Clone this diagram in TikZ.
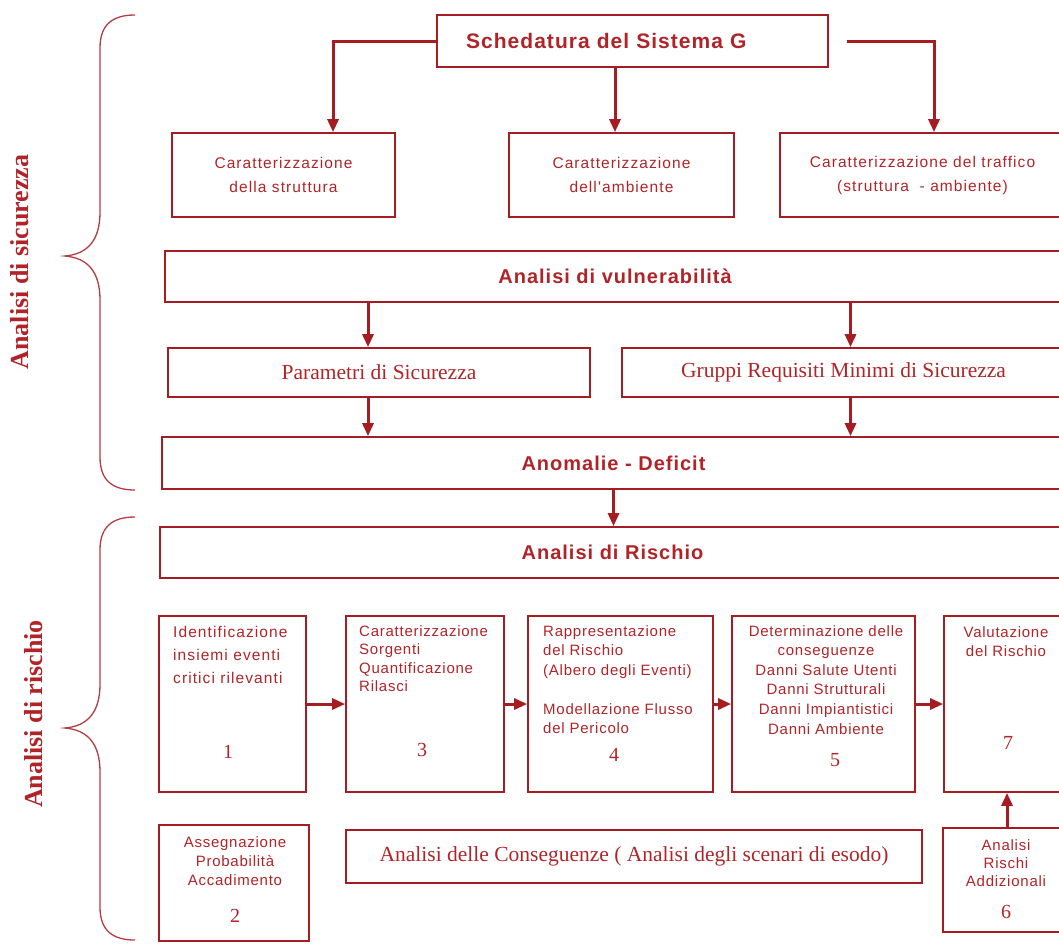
\documentclass[tikz,border=0pt]{standalone}
\usepackage{fontspec}
\setmainfont{Liberation Serif}
\newfontfamily\hdrfont[LetterSpace=5]{Liberation Sans}
\newfontfamily\widefont[LetterSpace=7]{Liberation Sans}
\newfontfamily\midfont[LetterSpace=5]{Liberation Sans}
\newfontfamily\tightfont[LetterSpace=5]{Liberation Sans}
\usetikzlibrary{arrows.meta,positioning,calc}
\definecolor{LineRed}{RGB}{165,28,34}
\definecolor{TextRed}{RGB}{176,36,40}

\begin{document}
\begin{tikzpicture}[x=1pt,y=-1pt,
        box/.style={draw=LineRed,line width=1.7pt,inner sep=0pt},
        hdr/.style={font=\hdrfont\bfseries\fontsize{20}{24}\selectfont,text=TextRed},
        ser/.style={font=\fontsize{21.5}{25}\selectfont,text=TextRed},
        wide/.style={font=\widefont\fontsize{15.5}{23}\selectfont,text=TextRed,
                     inner sep=0pt,align=left},
        tight/.style={font=\tightfont\fontsize{15}{19}\selectfont,text=TextRed,
                      inner sep=0pt,align=center},
        num/.style={font=\fontsize{20}{24}\selectfont,text=TextRed,inner sep=0pt},
        side/.style={font=\bfseries\fontsize{26}{30}\selectfont,text=TextRed,rotate=90},
        arr/.style={draw=LineRed,line width=3pt,-{Triangle[length=13pt,width=11pt]}},
        brace/.style={draw=LineRed!85,line width=1.3pt}
      ]
        \useasboundingbox (0,0) rectangle (1059,943);
        \clip (0,0) rectangle (1059,943);
        % analisi di sicurezza
        \node[box,hdr,font=\hdrfont\bfseries\fontsize{21}{24}\selectfont,
              text width=333pt,inner xsep=29pt,align=left,minimum height=52pt]
          (sched) at (632.5,41) {Schedatura del Sistema G};
        \node[box,wide,align=center,font=\widefont\fontsize{15.5}{24}\selectfont,
              minimum width=223pt,minimum height=84pt]
          (carstr) at (283.5,175) {Caratterizzazione\\della struttura};
        \node[box,wide,align=center,font=\widefont\fontsize{15.5}{24}\selectfont,
              minimum width=225pt,minimum height=84pt]
          (caramb) at (621.5,175) {Caratterizzazione\\dell'ambiente};
        \node[box,wide,align=center,font=\widefont\fontsize{15.5}{24}\selectfont,
              minimum width=285pt,minimum height=84pt]
          (cartraf) at (922.5,175) {Caratterizzazione del traffico\\(struttura~ - ambiente)};
        \node[box,hdr,minimum width=900pt,minimum height=51pt]
          (vuln) at (615,276.5) {Analisi di vulnerabilità};
        \node[box,ser,minimum width=422pt,minimum height=49pt]
          (param) at (379,372.5) {Parametri di Sicurezza};
        \node[box,ser,minimum width=443pt,minimum height=49pt]
          (gruppi) at (843.5,372.5) {Gruppi Requisiti Minimi di Sicurezza};
        \node[box,hdr,minimum width=903pt,minimum height=52pt]
          (anom) at (613.5,463) {Anomalie - Deficit};
        % analisi di rischio
        \node[box,hdr,minimum width=905pt,minimum height=51pt]
          (rischio) at (612.5,552.5) {Analisi di Rischio};
        \node[box,minimum width=147pt,minimum height=176pt] (b1) at (232.5,704) {};
        \node[box,minimum width=158pt,minimum height=176pt] (b3) at (425,704) {};
        \node[box,minimum width=185pt,minimum height=176pt] (b4) at (620.5,704) {};
        \node[box,minimum width=183pt,minimum height=176pt] (b5) at (823.5,704) {};
        \node[box,minimum width=121pt,minimum height=176pt] (b7) at (1004.5,704) {};
        \node[box,minimum width=150pt,minimum height=116pt] (b2) at (234,883) {};
        \node[box,ser,minimum width=576pt,minimum height=53pt]
          (cons) at (634,856.5) {Analisi delle Conseguenze ( Analisi degli scenari di esodo)};
        \node[box,minimum width=122pt,minimum height=104pt] (b6) at (1004,880) {};

        \node[wide,anchor=north west] (t1) at (173,626)
          {Identificazione\\insiemi eventi\\critici rilevanti};
        \node[wide,anchor=north west,font=\midfont\fontsize{15}{18.5}\selectfont]
          (t3) at (359,625) {Caratterizzazione\\Sorgenti\\Quantificazione\\Rilasci};
        \node[wide,anchor=north west,font=\tightfont\fontsize{15}{19.5}\selectfont]
          (t4) at (543,625)
          {Rappresentazione\\del Rischio\\(Albero degli Eventi)\\[19.5pt]Modellazione Flusso\\del Pericolo};
        \node[tight,anchor=north,font=\tightfont\fontsize{15}{19.6}\selectfont]
          (t5) at (826,625)
          {Determinazione delle\\conseguenze\\Danni Salute Utenti\\Danni Strutturali\\Danni Impiantistici\\Danni Ambiente};
        \node[tight,anchor=north] (t7) at (1006,626) {Valutazione\\del Rischio};
        \node[tight,anchor=north] (t2) at (235,836) {Assegnazione\\Probabilità\\Accadimento};
        \node[tight,anchor=north,font=\tightfont\fontsize{15}{18}\selectfont]
          (t6) at (1006,839) {Analisi\\Rischi\\Addizionali};
        \node[num] (n1) at (228,752) {1};
        \node[num] (n3) at (422,750) {3};
        \node[num] (n4) at (614,755) {4};
        \node[num] (n5) at (835,760) {5};
        \node[num] (n7) at (1008,743) {7};
        \node[num] (n2) at (235,916) {2};
        \node[num] (n6) at (1006,912) {6};

        % connectors
        \coordinate (cs) at ([xshift=49.5pt]carstr.north);
        \coordinate (ca) at ([xshift=-6.5pt]caramb.north);
        \coordinate (ct) at ([xshift=11.5pt]cartraf.north);
        \coordinate (cp) at ([xshift=-11pt]param.north);
        \coordinate (cg) at ([xshift=7pt]gruppi.north);
        \coordinate (c67) at ([xshift=3pt]b6.north);
        \draw[arr] (sched.west) -| (cs);
        \draw[arr] (sched.south -| ca) -- (ca);
        \draw[arr] ([xshift=18pt]sched.east) -| (ct);
        \draw[arr] (vuln.south -| cp) -- (cp);
        \draw[arr] (vuln.south -| cg) -- (cg);
        \draw[arr] (param.south -| cp) -- (anom.north -| cp);
        \draw[arr] (gruppi.south -| cg) -- (anom.north -| cg);
        \draw[arr] (anom.south) -- (anom.south |- rischio.north);
        \draw[arr] (b1.east) -- (b3.west);
        \draw[arr] (b3.east) -- (b4.west);
        \draw[arr] (b4.east) -- (b5.west);
        \draw[arr] (b5.east) -- (b7.west);
        \draw[arr] (c67) -- (c67 |- b7.south);

        % braces and side labels
        \draw[brace] (135,15) .. controls (112,15) and (100,25) .. (100,48)
          -- (100,212) .. controls (100,240) and (88,254) .. (65,256)
          .. controls (88,258) and (100,272) .. (100,300)
          -- (100,457) .. controls (100,480) and (112,490) .. (135,490);
        \draw[brace] (135,517) .. controls (112,517) and (100,527) .. (100,550)
          -- (100,684) .. controls (100,712) and (88,726) .. (65,728)
          .. controls (88,730) and (100,744) .. (100,772)
          -- (100,907) .. controls (100,930) and (112,940) .. (135,940);
        \node[side] (lsic) at (20,262) {Analisi di sicurezza};
        \node[side] (lris) at (34,714) {Analisi di rischio};
      \end{tikzpicture}
\end{document}
